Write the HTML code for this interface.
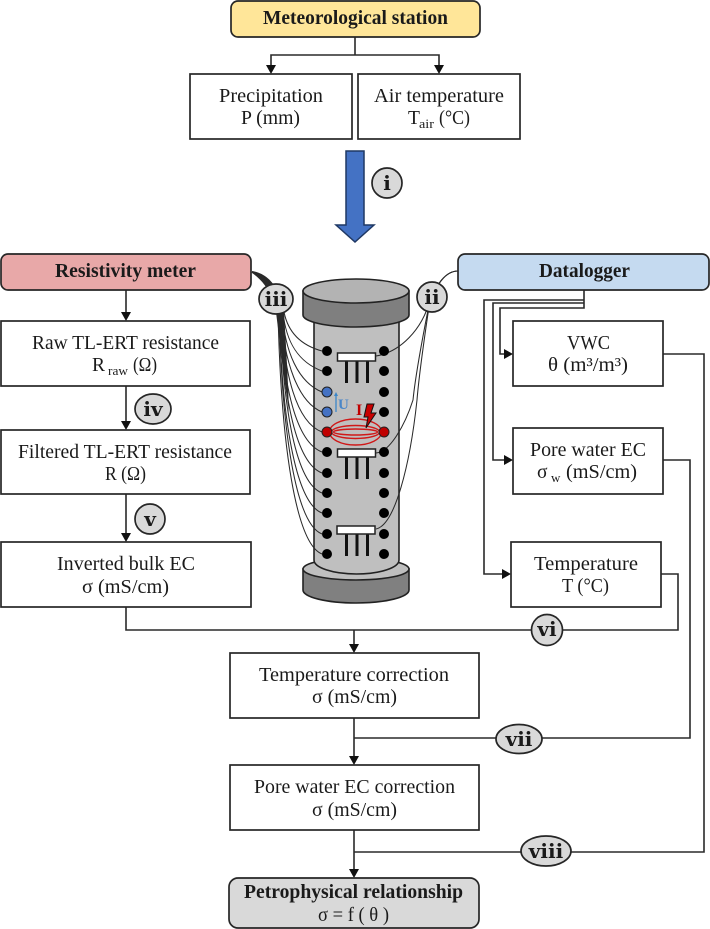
<!DOCTYPE html>
<html><head><meta charset="utf-8"><style>
html,body{margin:0;padding:0;background:#fff}
svg{display:block}
text{font-family:"Liberation Serif",serif;font-size:19.5px;fill:#1a1a1a;text-anchor:start}
.b{font-weight:bold}
.n{font-family:"DejaVu Serif","Liberation Serif",serif;font-weight:bold;font-size:20px;text-anchor:middle;fill:#1a1a1a}
.s{font-size:13px}
.box{fill:#fff;stroke:#262626;stroke-width:1.7}
.l{fill:none;stroke:#2a2a2a;stroke-width:1.6}
.w{fill:none;stroke:#2a2a2a;stroke-width:1.05}
.a{fill:#111;stroke:none}
.c{fill:#d9d9d9;stroke:#262626;stroke-width:1.7}
.r{fill:none;stroke:#d01818;stroke-width:1.4}
</style></head><body>
<svg width="710" height="929" viewBox="0 0 710 929" xmlns="http://www.w3.org/2000/svg">
<!-- connectors -->
<path class="l" d="M355 37V55M271 70V55H439V70"/>
<path class="a" d="M266 65h10l-5 9zM434 65h10l-5 9z"/>
<path class="l" d="M126 290V313M126 386V421M126 494V533"/>
<path class="a" d="M121 312h10l-5 9zM121 421h10l-5 9zM121 533h10l-5 9z"/>
<path class="l" d="M126 607V630H678V574H661"/>
<path class="l" d="M354 630V645M354 718V757M354 830V870"/>
<path class="a" d="M349 644h10l-5 9zM349 756h10l-5 9zM349 869h10l-5 9z"/>
<path class="l" d="M354 738H690V460H663"/>
<path class="l" d="M354 852H704V354H663"/>
<path class="l" d="M584 290V308H500V354H505M584 303H493V460H505M584 300H484V574H503"/>
<path class="a" d="M504 349v10l9-5zM504 455v10l9-5zM502 569v10l9-5z"/>
<!-- boxes -->
<rect x="231" y="1" width="249" height="36" rx="7" fill="#ffe699" stroke="#262626" stroke-width="1.7"/>
<rect class="box" x="190" y="74" width="162" height="65"/>
<rect class="box" x="358" y="74" width="162" height="65"/>
<rect x="1" y="254" width="250" height="36" rx="7" fill="#e8a8a8" stroke="#262626" stroke-width="1.7"/>
<rect x="458" y="254" width="251" height="36" rx="7" fill="#c5daf0" stroke="#262626" stroke-width="1.7"/>
<rect class="box" x="1" y="321" width="249" height="65"/>
<rect class="box" x="1" y="430" width="249" height="64"/>
<rect class="box" x="1" y="542" width="250" height="65"/>
<rect class="box" x="513" y="321" width="150" height="65"/>
<rect class="box" x="513" y="428" width="150" height="66"/>
<rect class="box" x="511" y="542" width="150" height="65"/>
<rect class="box" x="230" y="653" width="249" height="65"/>
<rect class="box" x="230" y="765" width="249" height="65"/>
<rect x="229" y="878" width="250" height="50" rx="9" fill="#d9d9d9" stroke="#262626" stroke-width="1.7"/>
<!-- blue arrow -->
<path d="M346 151H364V225H374L355 242L336 225H346Z" fill="#4472c4" stroke="#1f3864" stroke-width="1.5"/>
<!-- cylinder -->
<path d="M303 569V590A53 13 0 0 0 409 590V569Z" fill="#808080" stroke="#222" stroke-width="1.6"/>
<ellipse cx="356" cy="569" rx="53" ry="11" fill="#bfbfbf" stroke="#222" stroke-width="1.6"/>
<path d="M314 315V560A42.5 14 0 0 0 399 560V315Z" fill="#bfbfbf" stroke="#222" stroke-width="1.6"/>
<path d="M303 291V315A53 12 0 0 0 409 315V291Z" fill="#7f7f7f" stroke="#222" stroke-width="1.6"/>
<ellipse cx="356" cy="291" rx="53" ry="12" fill="#b3b3b3" stroke="#222" stroke-width="1.6"/>
<!-- sensors -->
<g fill="#111">
<rect x="345" y="361" width="3" height="22"/><rect x="355.500" y="361" width="3" height="22"/><rect x="366" y="361" width="3" height="22"/>
<rect x="345" y="457" width="3" height="22"/><rect x="355.500" y="457" width="3" height="22"/><rect x="366" y="457" width="3" height="22"/>
<rect x="345" y="534" width="3" height="22"/><rect x="355.500" y="534" width="3" height="22"/><rect x="366" y="534" width="3" height="22"/>
</g>
<g fill="#fff" stroke="#222" stroke-width="1.5">
<rect x="337.500" y="353" width="38" height="8"/><rect x="337.500" y="449" width="38" height="8"/><rect x="337" y="526" width="38" height="8"/>
</g>
<!-- wires -->
<path d="M252 271C264 273 272 280 278 292L281 296L273 300C268 288 261 279 252 273Z" fill="#2a2a2a"/>
<path d="M276 312L284 312C286 345 288 380 289 412C285 385 280 345 276 312Z" fill="#2a2a2a"/>
<g class="w">
<path class="w" d="M252 272Q275 278 284 312C288 332 300 345 322 351"/>
<path class="w" d="M252 272Q275 278 283 312C286 342 298 362 322 371"/>
<path class="w" d="M252 272Q275 278 282 312C285 352 298 382 322 392"/>
<path class="w" d="M252 272Q275 278 281 312C284 362 298 402 322 412"/>
<path class="w" d="M252 272Q275 278 281 312C284 374 296 422 322 432"/>
<path class="w" d="M252 272Q275 278 280 312C283 386 296 442 322 452"/>
<path class="w" d="M252 272Q275 278 280 312C283 398 296 463 322 473"/>
<path class="w" d="M252 272Q275 278 280 312C283 410 296 483 322 493"/>
<path class="w" d="M252 272Q275 278 279 312C282 422 296 503 322 513"/>
<path class="w" d="M252 272Q275 278 279 312C282 434 296 524 322 534"/>
<path class="w" d="M252 272Q275 278 278 312C281 446 296 544 322 554"/>
<path class="w" d="M458 271C445 271 437 285 430 300C422 330 400 352 376 356"/>
<path class="w" d="M458 271C445 271 437 285 430 300C420 350 415 380 413 400C405 425 390 452 376 453"/>
<path class="w" d="M458 271C445 271 437 285 430 300C424 340 419 375 417 400C410 465 395 525 376 529"/>
</g>
<!-- dots -->
<g fill="#000">
<circle cx="327" cy="351" r="5"/><circle cx="327" cy="371" r="5"/>
<circle cx="327" cy="452" r="5"/><circle cx="327" cy="473" r="5"/><circle cx="327" cy="493" r="5"/><circle cx="327" cy="513" r="5"/><circle cx="327" cy="534" r="5"/><circle cx="327" cy="554" r="5"/>
<circle cx="384" cy="351" r="5"/><circle cx="384" cy="371" r="5"/><circle cx="384" cy="392" r="5"/><circle cx="384" cy="412" r="5"/>
<circle cx="384" cy="452" r="5"/><circle cx="384" cy="473" r="5"/><circle cx="384" cy="493" r="5"/><circle cx="384" cy="513" r="5"/><circle cx="384" cy="534" r="5"/><circle cx="384" cy="554" r="5"/>
</g>
<circle cx="327" cy="392" r="5" fill="#4472c4" stroke="#222"/>
<circle cx="327" cy="412" r="5" fill="#4472c4" stroke="#222"/>
<!-- current -->
<ellipse class="r" cx="355.500" cy="432" rx="26" ry="13"/>
<ellipse class="r" cx="355.500" cy="432" rx="24" ry="6.500"/>
<ellipse class="r" cx="355.500" cy="432" rx="22" ry="3"/>
<circle cx="327" cy="432" r="5" fill="#c00000" stroke="#222"/>
<circle cx="384" cy="432" r="5" fill="#c00000" stroke="#222"/>
<path d="M367 404H374L371 413H376L366 428L368 417H364Z" fill="#c80000" stroke="#111" stroke-width="1"/>
<text class="b" x="356" y="415" style="font-size:16px;fill:#c00000">I</text>
<path d="M336 412V395" stroke="#3b86c8" stroke-width="1.300" fill="none"/>
<path d="M334 396l2-4 2 4z" fill="#3b86c8"/>
<text class="b" x="338" y="409" style="font-size:15px;fill:#4a86c8">U</text>
<!-- badges -->
<circle class="c" cx="387" cy="183" r="15"/><text class="n" x="387" y="190">i</text>
<ellipse class="c" cx="276" cy="299" rx="17" ry="15"/><text class="n" x="276" y="306">iii</text>
<circle class="c" cx="432" cy="297" r="15"/><text class="n" x="432" y="304">ii</text>
<ellipse class="c" cx="153" cy="409" rx="18" ry="15"/><text class="n" x="153" y="416">iv</text>
<circle class="c" cx="150" cy="519" r="15"/><text class="n" x="150" y="526">v</text>
<circle class="c" cx="547" cy="630" r="15.500"/><text class="n" x="547" y="636">vi</text>
<ellipse class="c" cx="519" cy="739" rx="23" ry="14.500"/><text class="n" x="519" y="746">vii</text>
<ellipse class="c" cx="546" cy="851" rx="25" ry="15"/><text class="n" x="546" y="858">viii</text>
<!-- labels -->
<text class="b" x="263" y="24" textLength="185" lengthAdjust="spacingAndGlyphs">Meteorological station</text>
<text x="219" y="102" textLength="104" lengthAdjust="spacingAndGlyphs">Precipitation</text>
<text x="241" y="124" textLength="59" lengthAdjust="spacingAndGlyphs">P (mm)</text>
<text x="374" y="102" textLength="130" lengthAdjust="spacingAndGlyphs">Air temperature</text>
<text x="408" y="124">T</text><text class="s" x="419" y="128" textLength="15" lengthAdjust="spacingAndGlyphs">air</text><text x="439" y="124" textLength="31" lengthAdjust="spacingAndGlyphs">(°C)</text>
<text class="b" x="55" y="277" textLength="141" lengthAdjust="spacingAndGlyphs">Resistivity meter</text>
<text class="b" x="539" y="277" textLength="91" lengthAdjust="spacingAndGlyphs">Datalogger</text>
<text x="32" y="349" textLength="187" lengthAdjust="spacingAndGlyphs">Raw TL-ERT resistance</text>
<text x="92" y="371">R</text><text class="s" x="108" y="375" textLength="20" lengthAdjust="spacingAndGlyphs">raw</text><text x="133" y="371" textLength="24" lengthAdjust="spacingAndGlyphs">(Ω)</text>
<text x="18" y="458" textLength="214" lengthAdjust="spacingAndGlyphs">Filtered TL-ERT resistance</text>
<text x="105" y="480" textLength="41" lengthAdjust="spacingAndGlyphs">R (Ω)</text>
<text x="57" y="570" textLength="138" lengthAdjust="spacingAndGlyphs">Inverted bulk EC</text>
<text x="82" y="593" textLength="87" lengthAdjust="spacingAndGlyphs">σ (mS/cm)</text>
<text x="567" y="349" textLength="43" lengthAdjust="spacingAndGlyphs">VWC</text>
<text x="548" y="371" textLength="80" lengthAdjust="spacingAndGlyphs">θ (m³/m³)</text>
<text x="530" y="456" textLength="116" lengthAdjust="spacingAndGlyphs">Pore water EC</text>
<text x="537" y="478">σ</text><text class="s" x="551" y="482">w</text><text x="566" y="478" textLength="71" lengthAdjust="spacingAndGlyphs">(mS/cm)</text>
<text x="534" y="570" textLength="104" lengthAdjust="spacingAndGlyphs">Temperature</text>
<text x="562" y="592" textLength="47" lengthAdjust="spacingAndGlyphs">T (°C)</text>
<text x="259" y="681" textLength="190" lengthAdjust="spacingAndGlyphs">Temperature correction</text>
<text x="312" y="703" textLength="85" lengthAdjust="spacingAndGlyphs">σ (mS/cm)</text>
<text x="254" y="793" textLength="201" lengthAdjust="spacingAndGlyphs">Pore water EC correction</text>
<text x="312" y="816" textLength="85" lengthAdjust="spacingAndGlyphs">σ (mS/cm)</text>
<text class="b" x="244" y="898" textLength="219" lengthAdjust="spacingAndGlyphs">Petrophysical relationship</text>
<text x="318" y="921" textLength="71" lengthAdjust="spacingAndGlyphs">σ = f ( θ )</text>
</svg>
</body></html>
